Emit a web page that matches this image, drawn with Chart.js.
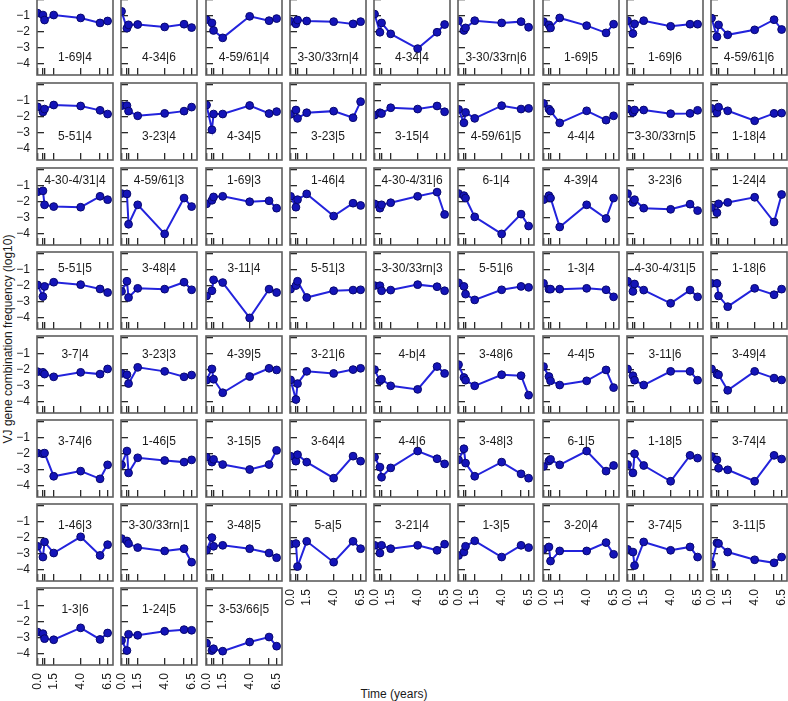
<!DOCTYPE html>
<html>
<head>
<meta charset="utf-8">
<script src="https://cdn.jsdelivr.net/npm/chart.js@4.4.1/dist/chart.umd.min.js"></script>
<style>
  html, body { margin: 0; padding: 0; background: #fff; }
  #wrap { position: relative; width: 788px; height: 701px; overflow: hidden; }
  #wrap canvas { position: absolute; }
  .axis-title { position: absolute; font: 12px "Liberation Sans", Arial, sans-serif; color: #1a1a1a; white-space: nowrap; }
</style>
</head>
<body>
<div id="wrap">
  <div class="axis-title" style="left:8px; top:339px; transform: translate(-50%,-50%) rotate(-90deg);">VJ gene combination frequency (log10)</div>
  <div class="axis-title" style="left:394px; top:694px; transform: translate(-50%,-50%);">Time (years)</div>
</div>
<script>
// sampling times (years) shared by every panel
const times = [0, 0.5, 0.65, 1.5, 4.0, 5.8, 6.5];
const xLabelTicks = [0, 1.5, 4.0, 6.5];
const yTicks = [0, -1, -2, -3, -4];

const panelNames = [
    '1-69|4', '4-34|6', '4-59/61|4', '3-30/33rn|4', '4-34|4', '3-30/33rn|6', '1-69|5', '1-69|6', '4-59/61|6',
    '5-51|4', '3-23|4', '4-34|5', '3-23|5', '3-15|4', '4-59/61|5', '4-4|4', '3-30/33rn|5', '1-18|4',
    '4-30-4/31|4', '4-59/61|3', '1-69|3', '1-46|4', '4-30-4/31|6', '6-1|4', '4-39|4', '3-23|6', '1-24|4',
    '5-51|5', '3-48|4', '3-11|4', '5-51|3', '3-30/33rn|3', '5-51|6', '1-3|4', '4-30-4/31|5', '1-18|6',
    '3-7|4', '3-23|3', '4-39|5', '3-21|6', '4-b|4', '3-48|6', '4-4|5', '3-11|6', '3-49|4',
    '3-74|6', '1-46|5', '3-15|5', '3-64|4', '4-4|6', '3-48|3', '6-1|5', '1-18|5', '3-74|4',
    '1-46|3', '3-30/33rn|1', '3-48|5', '5-a|5', '3-21|4', '1-3|5', '3-20|4', '3-74|5', '3-11|5',
    '1-3|6', '1-24|5', '3-53/66|5'
];

// log10 frequency per panel, one value per sampling time
const freqs = [
    [-0.84, -0.96, -1.27, -0.96, -1.14, -1.45, -1.33],
    [-0.73, -1.78, -1.57, -1.55, -1.70, -1.53, -1.74],
    [-1.25, -1.45, -1.92, -2.38, -1.04, -1.31, -1.18],
    [-1.35, -1.51, -1.27, -1.33, -1.37, -1.51, -1.37],
    [-0.90, -2.03, -1.45, -2.13, -3.05, -2.03, -1.55],
    [-1.31, -1.92, -1.76, -1.31, -1.45, -1.37, -1.72],
    [-1.37, -1.57, -1.76, -1.14, -1.62, -2.07, -1.53],
    [-1.31, -2.11, -1.51, -1.31, -1.66, -1.53, -1.53],
    [-1.15, -2.31, -1.57, -2.19, -1.88, -1.25, -1.86],

    [-1.38, -1.70, -1.52, -1.27, -1.33, -1.60, -1.83],
    [-1.31, -1.31, -1.65, -1.94, -1.79, -1.65, -1.40],
    [-1.27, -2.81, -1.83, -1.83, -1.30, -1.80, -1.68],
    [-1.85, -1.58, -2.10, -1.75, -1.65, -2.06, -1.06],
    [-1.90, -1.75, -1.80, -1.44, -1.52, -1.33, -1.69],
    [-1.54, -2.38, -1.73, -2.10, -1.31, -1.52, -1.48],
    [-1.17, -1.52, -1.65, -2.38, -1.63, -2.21, -1.94],
    [-1.52, -1.73, -1.58, -1.58, -1.81, -1.79, -1.60],
    [-1.48, -1.75, -1.40, -1.63, -2.25, -1.79, -1.77],

    [-1.38, -1.32, -2.19, -2.30, -2.34, -1.66, -1.87],
    [-1.49, -1.51, -3.40, -2.19, -4.00, -1.77, -2.30],
    [-2.13, -1.91, -1.70, -1.66, -2.00, -1.94, -2.40],
    [-1.66, -2.34, -1.87, -1.51, -2.89, -2.09, -2.23],
    [-2.13, -2.40, -2.19, -2.06, -1.66, -1.40, -2.79],
    [-1.49, -1.62, -1.77, -2.94, -4.00, -2.77, -3.51],
    [-1.87, -1.62, -1.77, -3.57, -2.19, -3.04, -1.77],
    [-1.49, -2.04, -1.87, -2.40, -2.47, -2.15, -2.55],
    [-2.36, -2.68, -2.13, -2.04, -1.72, -3.26, -1.55],

    [-1.95, -2.67, -2.04, -1.78, -1.93, -2.20, -2.42],
    [-2.35, -1.72, -2.73, -2.16, -2.21, -1.78, -2.25],
    [-2.63, -2.31, -1.63, -1.80, -4.00, -2.21, -2.42],
    [-2.21, -1.99, -1.72, -2.73, -2.31, -2.27, -2.25],
    [-1.99, -2.00, -2.31, -2.27, -1.93, -2.06, -2.31],
    [-1.82, -2.04, -2.52, -2.88, -2.25, -2.04, -2.10],
    [-1.85, -2.21, -2.21, -2.21, -2.16, -2.25, -2.69],
    [-1.72, -2.35, -1.89, -2.27, -3.09, -2.27, -2.69],
    [-1.85, -1.85, -2.63, -3.30, -2.16, -2.56, -2.21],

    [-2.12, -2.16, -2.27, -2.44, -2.16, -2.27, -1.95],
    [-2.23, -2.31, -2.86, -1.85, -2.10, -2.44, -2.33],
    [-2.65, -1.95, -2.59, -3.43, -2.42, -1.91, -2.01],
    [-2.63, -3.85, -2.86, -2.10, -2.23, -1.99, -1.91],
    [-1.99, -2.69, -2.59, -3.00, -3.22, -1.80, -2.23],
    [-1.68, -2.48, -2.65, -3.00, -2.31, -2.37, -3.58],
    [-1.80, -2.42, -2.69, -2.95, -2.69, -2.01, -3.11],
    [-1.95, -2.37, -2.65, -2.95, -2.10, -2.10, -2.65],
    [-1.95, -2.27, -2.31, -3.28, -2.10, -2.52, -2.63],

    [-1.96, -2.00, -1.96, -3.40, -3.08, -3.56, -2.69],
    [-2.69, -1.83, -3.19, -2.25, -2.42, -2.52, -2.38],
    [-2.21, -2.52, -2.35, -2.67, -2.98, -2.67, -1.79],
    [-2.15, -2.46, -2.06, -2.52, -3.52, -2.15, -2.46],
    [-2.21, -2.83, -3.46, -2.88, -1.83, -2.31, -2.63],
    [-2.38, -1.69, -2.58, -3.40, -2.52, -3.25, -3.52],
    [-2.79, -2.45, -2.35, -2.69, -1.83, -3.08, -2.73],
    [-2.67, -3.19, -2.00, -2.73, -3.71, -2.10, -2.27],
    [-2.17, -2.38, -2.90, -3.00, -3.71, -2.10, -2.33],

    [-2.53, -3.20, -2.26, -2.95, -1.94, -3.10, -2.43],
    [-2.05, -2.20, -2.36, -2.61, -2.82, -2.68, -3.52],
    [-2.78, -1.99, -2.53, -2.47, -2.68, -2.95, -3.24],
    [-2.40, -2.36, -3.79, -2.22, -3.52, -2.22, -2.68],
    [-2.47, -2.95, -2.47, -2.68, -2.47, -2.78, -2.40],
    [-3.10, -2.89, -2.53, -2.19, -3.20, -2.47, -2.61],
    [-2.72, -2.57, -3.45, -2.82, -2.82, -2.30, -3.03],
    [-2.72, -2.89, -3.73, -2.26, -2.78, -2.57, -3.20],
    [-3.66, -2.32, -2.36, -2.89, -3.37, -3.56, -3.20],

    [-2.64, -2.74, -3.05, -3.12, -2.38, -3.10, -2.70],
    [-3.16, -3.79, -2.78, -2.84, -2.59, -2.49, -2.53],
    [-3.33, -3.79, -3.68, -3.83, -3.26, -2.95, -3.52]
];

// panel grid layout (page pixels)
const NCOL = 9;
const colLeft = [37, 121, 206, 290, 374, 458, 543, 627, 711];
const rowTop = [-2, 83, 168, 252, 336, 420, 504, 588];
const titleY = [60, 53.5, 12.5, 17, 19, 21.5, 21.5, 22]; // label centre below panel top
const W = 76, H = 77;
const PADL = 40, PADR = 22, PADT = 12, PADB = 34;

Chart.defaults.font.family = '"Liberation Sans", Arial, Helvetica, sans-serif';
Chart.defaults.font.size = 12;
Chart.defaults.color = '#1a1a1a';

// box around the plot area plus the panel name
const panelFrame = {
    id: 'panelFrame',
    afterDraw(chart, args, opts) {
        const {ctx, chartArea: a} = chart;
        ctx.save();
        ctx.strokeStyle = '#5e5e5e';
        ctx.lineWidth = 1.6;
        ctx.strokeRect(a.left, a.top, a.right - a.left, a.bottom - a.top);
        ctx.fillStyle = '#1a1a1a';
        ctx.font = '12px "Liberation Sans", Arial, sans-serif';
        ctx.textAlign = 'center';
        ctx.textBaseline = 'middle';
        ctx.fillText(opts.name, (a.left + a.right) / 2, a.top + opts.labelY);
        ctx.restore();
    }
};

const wrap = document.getElementById('wrap');

panelNames.forEach((name, i) => {
    const row = Math.floor(i / NCOL);
    const col = i % NCOL;
    const showX = i + NCOL >= panelNames.length; // nothing below -> time labels
    const showY = col === 0;

    const canvas = document.createElement('canvas');
    canvas.width = PADL + W + PADR;
    canvas.height = PADT + H + PADB;
    canvas.style.left = (colLeft[col] - PADL) + 'px';
    canvas.style.top = (rowTop[row] - PADT) + 'px';
    wrap.appendChild(canvas);

    new Chart(canvas, {
        type: 'line',
        data: {
            datasets: [{
                data: times.map((t, k) => ({x: t, y: freqs[i][k]})),
                borderColor: '#2323dc',
                borderWidth: 2,
                tension: 0,
                pointRadius: 3.9,
                pointBackgroundColor: '#1414b8',
                pointBorderColor: '#07076e',
                pointBorderWidth: 1,
                clip: 0
            }]
        },
        options: {
            responsive: false,
            animation: false,
            events: [],
            layout: {padding: {left: 0, top: PADT, right: PADR, bottom: 0}},
            plugins: {
                legend: {display: false},
                tooltip: {enabled: false},
                panelFrame: {name: name, labelY: titleY[row]}
            },
            scales: {
                x: {
                    type: 'linear',
                    position: 'bottom',
                    min: -0.05,
                    max: 7.0,
                    afterBuildTicks: s => { s.ticks = times.map(v => ({value: v})); },
                    afterFit: s => { s.height = PADB; s.paddingLeft = 0; s.paddingRight = 0; },
                    grid: {drawOnChartArea: false, drawTicks: true, tickLength: -7, color: '#2a2a2a', lineWidth: 1.3},
                    border: {display: false},
                    ticks: {
                        display: showX,
                        autoSkip: false,
                        minRotation: 90,
                        maxRotation: 90,
                        padding: 15,
                        callback: v => xLabelTicks.includes(v) ? v.toFixed(1) : ''
                    }
                },
                y: {
                    type: 'linear',
                    min: -4.69,
                    max: 0.1,
                    afterBuildTicks: s => { s.ticks = yTicks.map(v => ({value: v})); },
                    afterFit: s => { s.width = PADL; s.paddingTop = 0; s.paddingBottom = 0; },
                    grid: {drawOnChartArea: false, drawTicks: true, tickLength: -7, color: '#2a2a2a', lineWidth: 1.3},
                    border: {display: false},
                    ticks: {
                        display: showY,
                        padding: 14,
                        callback: v => v === 0 ? '' : '\u2212' + Math.abs(v)
                    }
                }
            }
        },
        plugins: [panelFrame]
    });
});
</script>
</body>
</html>
